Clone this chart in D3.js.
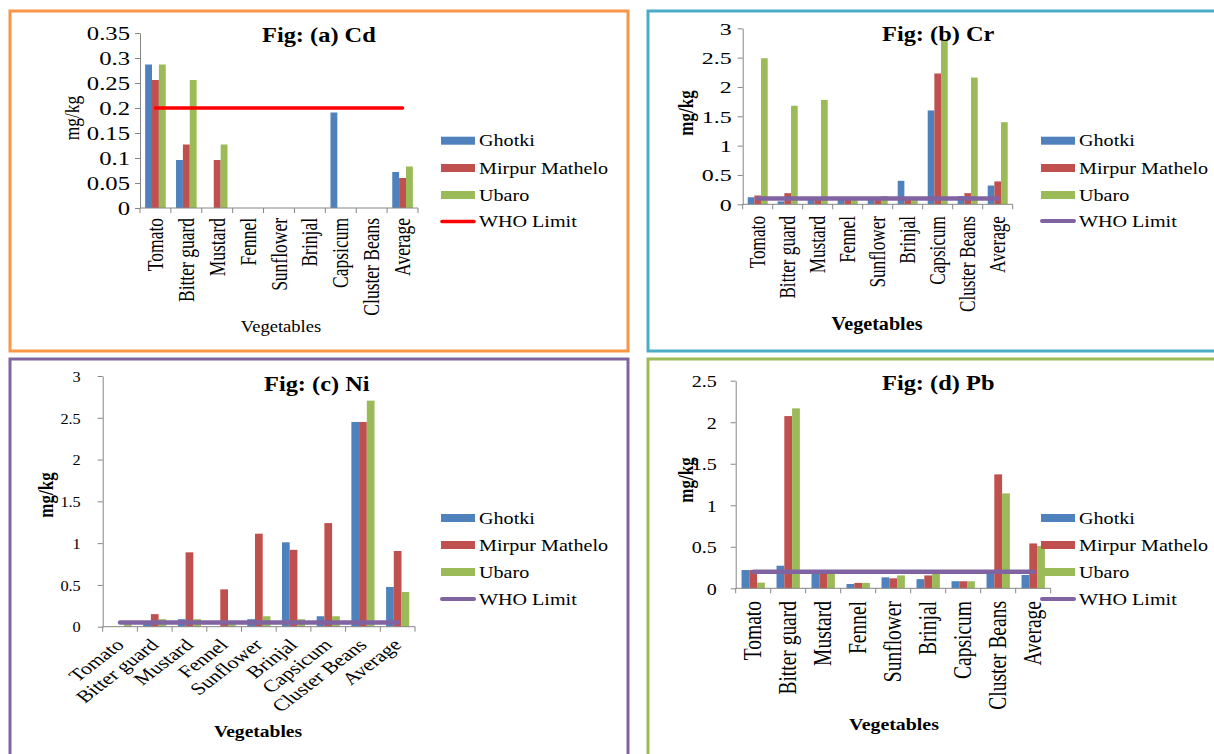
<!DOCTYPE html>
<html>
<head>
<meta charset="utf-8">
<script src="https://cdn.jsdelivr.net/npm/d3@7"></script>
<style>
  html, body { margin: 0; padding: 0; background: #ffffff; }
  svg { display: block; }
  svg text { font-family: "Liberation Serif", "Times New Roman", serif; fill: #000; }
</style>
</head>
<body>
<svg id="chart" width="1214" height="754" font-family="Liberation Serif, Times New Roman, serif"></svg>
<script>
// ---- data ----
const categories = ["Tomato", "Bitter guard", "Mustard", "Fennel", "Sunflower", "Brinjal", "Capsicum", "Cluster Beans", "Average"];
const seriesNames = ["Ghotki", "Mirpur Mathelo", "Ubaro"];
const whoName = "WHO Limit";

// Cadmium (mg/kg)
const cdGhotki = [0.287, 0.096, 0, 0, 0, 0, 0.191, 0, 0.072];
const cdMirpur = [0.256, 0.127, 0.096, 0, 0, 0, 0, 0, 0.060];
const cdUbaro  = [0.287, 0.256, 0.127, 0, 0, 0, 0, 0, 0.083];
const cdWho    = [0.2, 0.2, 0.2, 0.2, 0.2, 0.2, 0.2, 0.2, 0.2];
const cdTicks  = [0, 0.05, 0.1, 0.15, 0.2, 0.25, 0.3, 0.35];

// Chromium (mg/kg)
const crGhotki = [0.12, 0.05, 0.09, 0.11, 0.10, 0.40, 1.60, 0.14, 0.32];
const crMirpur = [0.15, 0.19, 0.09, 0.10, 0.10, 0.08, 2.23, 0.19, 0.39];
const crUbaro  = [2.49, 1.68, 1.78, 0.07, 0.14, 0.07, 2.81, 2.16, 1.40];
const crWho    = [0.1, 0.1, 0.1, 0.1, 0.1, 0.1, 0.1, 0.1, 0.1];
const crTicks  = [0, 0.5, 1, 1.5, 2, 2.5, 3];

// Nickel (mg/kg)
const niGhotki = [0, 0.04, 0.09, 0, 0.09, 1.01, 0.125, 2.45, 0.475];
const niMirpur = [0, 0.15, 0.89, 0.447, 1.113, 0.92, 1.24, 2.45, 0.906];
const niUbaro  = [0.03, 0.09, 0.09, 0.03, 0.125, 0.09, 0.125, 2.705, 0.415];
const niWho    = [0.05, 0.05, 0.05, 0.05, 0.05, 0.05, 0.05, 0.05, 0.05];
const niTicks  = [0, 0.5, 1, 1.5, 2, 2.5, 3];

// Lead (mg/kg)
const pbGhotki = [0.22, 0.272, 0.22, 0.052, 0.132, 0.11, 0.085, 0.20, 0.16];
const pbMirpur = [0.22, 2.074, 0.22, 0.065, 0.12, 0.155, 0.085, 1.372, 0.54];
const pbUbaro  = [0.068, 2.167, 0.21, 0.065, 0.155, 0.19, 0.085, 1.143, 0.51];
const pbWho    = [0.2, 0.2, 0.2, 0.2, 0.2, 0.2, 0.2, 0.2, 0.2];
const pbTicks  = [0, 0.5, 1, 1.5, 2, 2.5];

// ---- styling / layout ----
const seriesColors = ["#4F81BD", "#C0504D", "#9BBB59"];
const axisColor = "#868686";
const serif = "Liberation Serif, Times New Roman, serif";

const panels = [
  {
    title: "Fig: (a) Cd", border: "#F79646", box: [10, 11, 618, 340],
    plot: { x0: 140, x1: 418, yb: 208, yt: 33 },
    values: [cdGhotki, cdMirpur, cdUbaro], who: cdWho, ticks: cdTicks,
    whoColor: "#FF0000", whoWidth: 3.5,
    tick: { size: 19, sx: 1.3, gap: 10 },
    xlab: { size: 17.5, sx: 1.3, rot: -90, top: 218 },
    titlePos: [262, 41.5],
    xTitle: { x: 281, y: 332, size: 17.5, sx: 1.06, bold: false },
    yTitle: { x: 72, y: 118, size: 17.5, bold: false },
    legend: { x: 441, rows: [140.7, 168, 195, 221.5] }
  },
  {
    title: "Fig: (b) Cr", border: "#4BACC6", box: [648, 11, 600, 340],
    plot: { x0: 742.7, x1: 1012.7, yb: 204.3, yt: 28.3 },
    values: [crGhotki, crMirpur, crUbaro], who: crWho, ticks: crTicks,
    whoColor: "#8064A2", whoWidth: 4.5,
    tick: { size: 17.5, sx: 1.37, gap: 11 },
    xlab: { size: 17.2, sx: 1.3, rot: -90, top: 216 },
    titlePos: [882, 40.7],
    xTitle: { x: 877, y: 330, size: 19, sx: 1.06, bold: true },
    yTitle: { x: 686, y: 113, size: 17, bold: true },
    legend: { x: 1041, rows: [140.7, 168, 195, 221] }
  },
  {
    title: "Fig: (c) Ni", border: "#8064A2", box: [10, 359, 618, 420],
    plot: { x0: 102.7, x1: 415, yb: 626.7, yt: 376 },
    values: [niGhotki, niMirpur, niUbaro], who: niWho, ticks: niTicks,
    whoColor: "#8064A2", whoWidth: 4.5,
    tick: { size: 15.5, sx: 1.05, gap: 22 },
    xlab: { size: 17, sx: 1.3, rot: -45, top: 642 },
    titlePos: [264, 390.5],
    xTitle: { x: 258, y: 736.7, size: 17.6, sx: 1.11, bold: true },
    yTitle: { x: 46, y: 495, size: 17, bold: true },
    legend: { x: 441, rows: [518, 545, 572, 599] }
  },
  {
    title: "Fig: (d) Pb", border: "#9BBB59", box: [648, 359, 600, 420],
    plot: { x0: 735.7, x1: 1050.7, yb: 588.3, yt: 380.7 },
    values: [pbGhotki, pbMirpur, pbUbaro], who: pbWho, ticks: pbTicks,
    whoColor: "#8064A2", whoWidth: 4.5,
    tick: { size: 17, sx: 1.18, gap: 19 },
    xlab: { size: 19.5, sx: 1.28, rot: -90, top: 601 },
    titlePos: [882, 390],
    xTitle: { x: 894, y: 730, size: 17.6, sx: 1.13, bold: true },
    yTitle: { x: 686, y: 480, size: 17, bold: true },
    legend: { x: 1041, rows: [518, 545, 572, 599] }
  }
];

const svg = d3.select("#chart");

// Place text at (x, y) with a horizontal stretch and optional rotation.
function place(sel, x, y, sx, rot) {
  sel.attr("font-family", serif)
    .attr("transform", `translate(${x},${y}) scale(${sx},1)` + (rot ? ` rotate(${rot})` : ""));
  return sel;
}

function drawPanel(p) {
  const g = svg.append("g");

  // panel frame
  g.append("rect")
    .attr("x", p.box[0]).attr("y", p.box[1])
    .attr("width", p.box[2]).attr("height", p.box[3])
    .attr("fill", "none").attr("stroke", p.border).attr("stroke-width", 3);

  const x = d3.scaleBand().domain(categories)
    .range([p.plot.x0, p.plot.x1]).paddingInner(1 / 3).paddingOuter(1 / 6);
  const xs = d3.scaleBand().domain(seriesNames).range([0, x.bandwidth()]);
  const y = d3.scaleLinear().domain([0, d3.max(p.ticks)]).range([p.plot.yb, p.plot.yt]);

  // y axis
  const yAxis = d3.axisLeft(y).tickValues(p.ticks).tickSize(5).tickSizeOuter(0)
    .tickFormat(d => String(+d.toFixed(2)));
  const ya = g.append("g").attr("transform", `translate(${p.plot.x0},0)`).call(yAxis);
  ya.attr("font-family", serif).attr("font-size", p.tick.size);
  ya.select(".domain").attr("stroke", axisColor);
  ya.selectAll(".tick line").attr("stroke", axisColor);
  ya.selectAll(".tick text").attr("fill", "#000").attr("x", null).attr("dy", "0.34em")
    .each(function () { place(d3.select(this), -p.tick.gap, 0, p.tick.sx); });

  // bars
  seriesNames.forEach((s, si) => {
    g.append("g").selectAll("rect").data(p.values[si]).join("rect")
      .attr("x", (d, i) => x(categories[i]) + xs(s))
      .attr("width", xs.bandwidth())
      .attr("y", d => y(d))
      .attr("height", d => y(0) - y(d))
      .attr("fill", seriesColors[si]);
  });

  // x axis: baseline with ticks on category boundaries
  const xa = g.append("g");
  xa.append("line").attr("x1", p.plot.x0).attr("x2", p.plot.x1)
    .attr("y1", y(0)).attr("y2", y(0)).attr("stroke", axisColor);
  const bounds = categories.map(c => x(c) - x.step() * x.paddingInner() / 2).concat([p.plot.x1]);
  xa.selectAll("line.tk").data(bounds).join("line").attr("class", "tk")
    .attr("x1", d => d).attr("x2", d => d).attr("y1", y(0)).attr("y2", y(0) + 5)
    .attr("stroke", axisColor);

  // category labels
  g.append("g").selectAll("text").data(categories).join("text")
    .attr("font-size", p.xlab.size).attr("text-anchor", "end").attr("dy", "0.33em")
    .text(d => d)
    .each(function (d) {
      const cx = x(d) + x.bandwidth() / 2;
      place(d3.select(this), cx, p.xlab.top, p.xlab.sx, p.xlab.rot);
    });

  // WHO limit line through category centres
  const line = d3.line().x((d, i) => x(categories[i]) + x.bandwidth() / 2).y(d => y(d));
  g.append("path").datum(p.who).attr("d", line).attr("fill", "none")
    .attr("stroke", p.whoColor).attr("stroke-width", p.whoWidth).attr("stroke-linecap", "round");

  // title
  place(g.append("text").attr("font-size", 20).attr("font-weight", "bold").text(p.title),
    p.titlePos[0], p.titlePos[1], 1.22);

  // axis titles
  place(g.append("text").attr("font-size", p.xTitle.size).attr("text-anchor", "middle")
    .attr("font-weight", p.xTitle.bold ? "bold" : "normal").text("Vegetables"),
    p.xTitle.x, p.xTitle.y, p.xTitle.sx);
  place(g.append("text").attr("font-size", p.yTitle.size).attr("text-anchor", "middle")
    .attr("dy", "0.33em").attr("font-weight", p.yTitle.bold ? "bold" : "normal").text("mg/kg"),
    p.yTitle.x, p.yTitle.y, 1.2, -90);

  // legend
  const lg = g.append("g");
  seriesNames.forEach((s, si) => {
    lg.append("rect").attr("x", p.legend.x).attr("y", p.legend.rows[si] - 4)
      .attr("width", 34).attr("height", 8).attr("fill", seriesColors[si]);
    place(lg.append("text").attr("font-size", 16.5).text(s), p.legend.x + 38, p.legend.rows[si] + 5.5, 1.22);
  });
  const wr = p.legend.rows[3];
  lg.append("line").attr("x1", p.legend.x + 1).attr("x2", p.legend.x + 33)
    .attr("y1", wr).attr("y2", wr).attr("stroke", p.whoColor)
    .attr("stroke-width", p.whoColor === "#FF0000" ? 3.5 : 4).attr("stroke-linecap", "round");
  place(lg.append("text").attr("font-size", 16.5).text(whoName), p.legend.x + 38, wr + 5.5, 1.22);
}

panels.forEach(drawPanel);
</script>
</body>
</html>
